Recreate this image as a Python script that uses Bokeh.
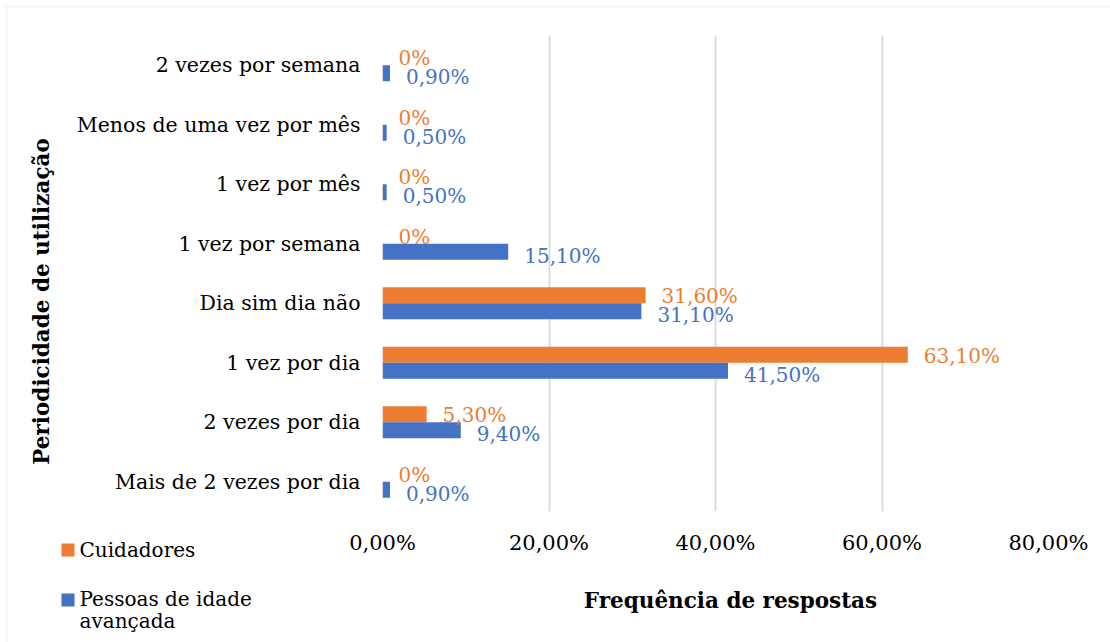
from bokeh.plotting import figure
from bokeh.models import (ColumnDataSource, FactorRange, Range1d, FixedTicker,
                          Label, BoxAnnotation)
from bokeh.transform import dodge
from bokeh.embed import file_html
from bokeh.resources import INLINE
from bokeh.core.properties import value
import math

# ---------------- data ----------------
categories = ["Mais de 2 vezes por dia", "2 vezes por dia", "1 vez por dia",
              "Dia sim dia não", "1 vez por semana", "1 vez por mês",
              "Menos de uma vez por mês", "2 vezes por semana"]
cuidadores = [0.0, 5.3, 63.1, 31.6, 0.0, 0.0, 0.0, 0.0]
pessoas = [0.9, 9.4, 41.5, 31.1, 15.1, 0.5, 0.5, 0.9]
series_names = ["Cuidadores", "Pessoas de idade\navançada"]
x_ticks = [0, 20, 40, 60, 80]
x_tick_labels = ["0,00%", "20,00%", "40,00%", "60,00%", "80,00%"]
x_title = "Frequência de respostas"
y_title = "Periodicidade de utilização"

ORANGE = "#ED7D31"
BLUE = "#4472C4"
SERIF = "DejaVu Serif"
W, H = 1110, 642


def fmt(v):
    return "0%" if v == 0 else f"{v:.2f}".replace(".", ",") + "%"


src = ColumnDataSource(dict(
    cat=categories,
    cuid=cuidadores,
    pess=pessoas,
    cuid_lbl=[fmt(v) for v in cuidadores],
    pess_lbl=[fmt(v) for v in pessoas],
))

# ---------------- main chart ----------------
p = figure(y_range=FactorRange(factors=categories, range_padding=0),
           x_range=Range1d(0, 80),
           width=W, height=H,
           output_backend="svg", toolbar_location=None,
           min_border_left=382, min_border_right=62,
           min_border_top=35, min_border_bottom=131,
           background_fill_color="white", border_fill_color="white")
p.outline_line_color = None

off = 0.135
bh = 0.27
p.hbar(y=dodge("cat", off, range=p.y_range), right="cuid", left=0, height=bh,
       source=src, fill_color=ORANGE, line_color=None)
p.hbar(y=dodge("cat", -off, range=p.y_range), right="pess", left=0, height=bh,
       source=src, fill_color=BLUE, line_color=None)

p.text(x="cuid", y=dodge("cat", off, range=p.y_range), text="cuid_lbl",
       x_offset=16, y_offset=1, text_align="left", text_baseline="middle",
       text_color=ORANGE, text_font=value(SERIF), text_font_size="20px",
       source=src)
p.text(x="pess", y=dodge("cat", -off, range=p.y_range), text="pess_lbl",
       x_offset=16, y_offset=4, text_align="left", text_baseline="middle",
       text_color=BLUE, text_font=value(SERIF), text_font_size="20px",
       source=src)

p.xaxis.ticker = FixedTicker(ticks=x_ticks)
p.xaxis.major_label_overrides = {t: l for t, l in zip(x_ticks, x_tick_labels)}
p.xaxis.axis_line_color = None
p.xaxis.major_tick_line_color = None
p.xaxis.minor_tick_line_color = None
p.xaxis.major_label_standoff = 13
p.xaxis.major_label_text_font = SERIF
p.xaxis.major_label_text_font_size = "21px"
p.xaxis.major_label_text_color = "#000000"

p.yaxis.axis_line_color = None
p.yaxis.major_tick_line_color = None
p.yaxis.minor_tick_line_color = None
p.yaxis.major_label_standoff = 16
p.yaxis.major_label_text_font = SERIF
p.yaxis.major_label_text_font_size = "20.5px"
p.yaxis.major_label_text_color = "#000000"

p.xgrid.ticker = FixedTicker(ticks=x_ticks)
p.xgrid.grid_line_color = "#D9D9D9"
p.xgrid.grid_line_width = 1.8
p.ygrid.grid_line_color = None

# ---------------- overlay for titles, legend and chart border ----------------
ov = figure(width=W, height=H, x_range=Range1d(0, W), y_range=Range1d(H, 0),
            x_axis_location=None, y_axis_location=None,
            output_backend="svg", toolbar_location=None, min_border=0,
            background_fill_color=None, border_fill_color=None)
ov.outline_line_color = None
ov.grid.visible = False
ov.styles = {"margin-top": f"-{H}px"}

ov.add_layout(BoxAnnotation(left=6, right=W + 20, top=6, bottom=H + 20,
                            fill_alpha=0, line_color="#D9D9D9", line_width=1.5))

ov.add_layout(Label(x=730, y=600, text=x_title, text_align="center",
                    text_baseline="alphabetic", text_font=SERIF,
                    text_font_style="bold", text_font_size="21.5px",
                    text_color="#000000"))
ov.add_layout(Label(x=41, y=301, text=y_title, angle=math.pi / 2,
                    text_align="center", text_baseline="middle", text_font=SERIF,
                    text_font_style="bold", text_font_size="21.5px",
                    text_color="#000000"))

for name, col, top, bottom, ty in [(series_names[0], ORANGE, 543, 556, 537),
                                   (series_names[1], BLUE, 593, 606, 586)]:
    ov.add_layout(BoxAnnotation(left=61, right=74, top=top, bottom=bottom,
                                fill_color=col, fill_alpha=1, line_color=None))
    ov.add_layout(Label(x=79, y=ty, text=name, text_align="left",
                        text_baseline="top", text_font=SERIF,
                        text_font_size="20px", text_color="#000000",
                        text_line_height=0.94))

open("out.html", "w").write(file_html([p, ov], INLINE))
